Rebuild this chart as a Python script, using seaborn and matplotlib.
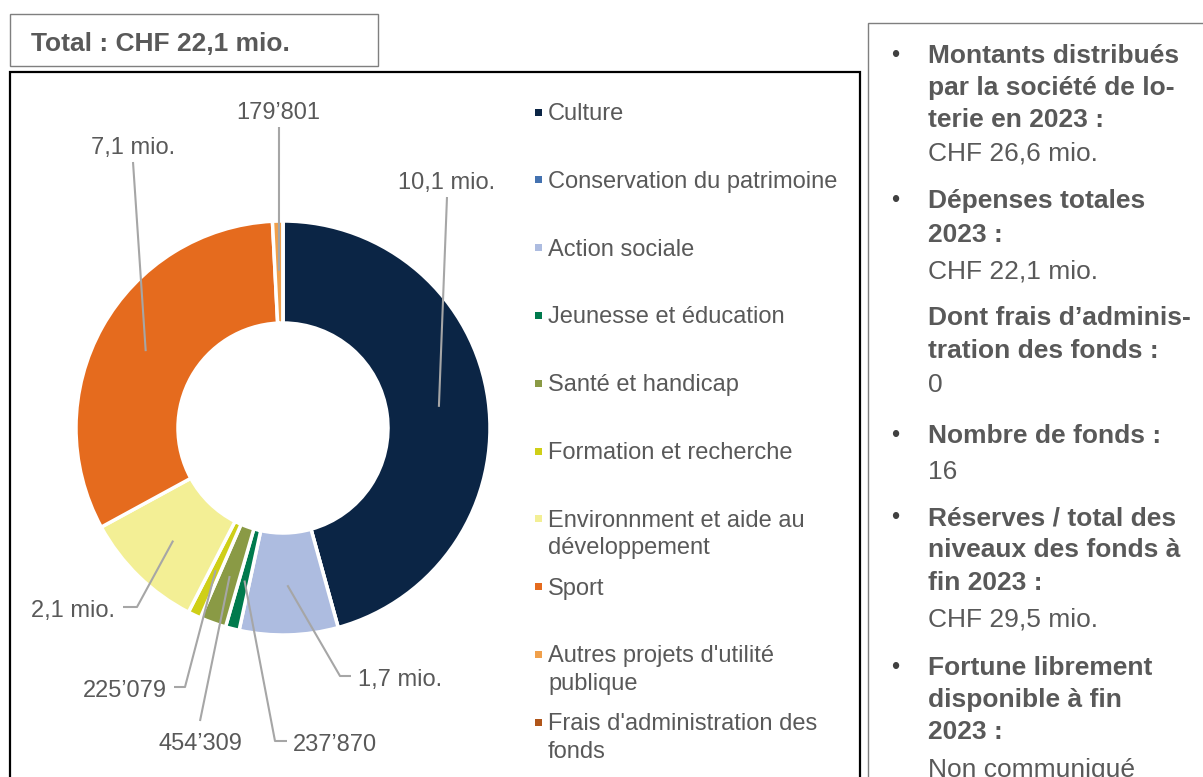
import matplotlib
matplotlib.use("Agg")
import matplotlib.pyplot as plt
import seaborn as sns
import numpy as np
from matplotlib.patches import Rectangle

# ---------------- data ----------------
categories = ["Culture", "Conservation du patrimoine", "Action sociale",
              "Jeunesse et éducation", "Santé et handicap", "Formation et recherche",
              "Environnment et aide au\ndéveloppement", "Sport",
              "Autres projets d'utilité\npublique", "Frais d'administration des\nfonds"]
values = [10_100_000, 0, 1_700_000, 237_870, 454_309, 225_079,
          2_100_000, 7_100_000, 179_801, 0]
value_labels = ["10,1 mio.", None, "1,7 mio.", "237’870", "454’309", "225’079",
                "2,1 mio.", "7,1 mio.", "179’801", None]
colors = ["#0B2545", "#4472B0", "#ADBCE0", "#007A4D", "#8A9A45", "#CFCF17",
          "#F3EF95", "#E56B1E", "#F0A04B", "#B0561A"]
title_text = "Total : CHF 22,1 mio."

# right info box: (text, bold, bullet)
info_lines = [
    ("Montants distribués", True, True),
    ("par la société de lo-", True, False),
    ("terie en 2023 :", True, False),
    ("CHF 26,6 mio.", False, False),
    ("Dépenses totales", True, True),
    ("2023 :", True, False),
    ("CHF 22,1 mio.", False, False),
    ("Dont frais d’adminis-", True, False),
    ("tration des fonds :", True, False),
    ("0", False, False),
    ("Nombre de fonds :", True, True),
    ("16", False, False),
    ("Réserves / total des", True, True),
    ("niveaux des fonds à", True, False),
    ("fin 2023 :", True, False),
    ("CHF 29,5 mio.", False, False),
    ("Fortune librement", True, True),
    ("disponible à fin", True, False),
    ("2023 :", True, False),
    ("Non communiqué", False, False),
]

# ---------------- layout (pixel coordinates, y measured from top) ----------------
W, H = 1203, 777
DY = 3  # visual-centre correction for va='center'
info_y = [53, 85, 117, 151, 198, 232, 268, 315, 348, 382,
          433, 469, 515, 547, 580, 617, 665, 697, 729, 767]
# label layout: (text x, text y, ha, path points from anchor outward)
label_layout = [
    (447, 180, "center", [(447, 197)]),
    None,
    (358, 677, "left", [(340, 676), (351, 676)]),
    (293, 742, "left", [(275, 741), (287, 741)]),
    (200, 741, "center", [(200, 721)]),
    (167, 688, "right", [(185, 687), (174, 687)]),
    (115, 608, "right", [(137, 607), (123, 607)]),
    (133, 145, "center", [(133, 162)]),
    (278, 110, "center", [(279, 127)]),
    None,
]

sns.set_theme(style="white")
plt.rcParams["font.family"] = ["Liberation Sans", "DejaVu Sans"]
TXT = "#595959"
LINE = "#A6A6A6"

def P(x, y):
    return (x, H - y)

fig = plt.figure(figsize=(W / 100, H / 100), dpi=100)
ax = fig.add_axes([0, 0, 1, 1])

cx, cy = P(283, 428)
R = 207
palette = sns.color_palette(colors)
wedges, _ = ax.pie(values, colors=palette, startangle=90, counterclock=False,
                   radius=R, center=(cx, cy),
                   wedgeprops=dict(width=102, edgecolor="white", linewidth=2.5))
ax.set_xlim(0, W)
ax.set_ylim(0, H)
ax.set_aspect("equal")
ax.axis("off")

# value labels with leader lines
for w, lab, lay in zip(wedges, value_labels, label_layout):
    if lab is None or lay is None:
        continue
    mid = np.deg2rad((w.theta1 + w.theta2) / 2)
    ax_pt = (cx + 0.76 * R * np.cos(mid), cy + 0.76 * R * np.sin(mid))
    tx, ty, ha, pts = lay
    xs = [ax_pt[0]] + [P(*p)[0] for p in pts]
    ys = [ax_pt[1]] + [P(*p)[1] for p in pts]
    ax.plot(xs, ys, color=LINE, lw=1.5, solid_capstyle="butt", zorder=5)
    ax.text(*P(tx, ty + DY), lab, ha=ha, va="center", fontsize=17, color=TXT)

# legend (manual, evenly spaced)
for i, (cat, col) in enumerate(zip(categories, palette)):
    y = 112 + i * 67.8
    x0, y0 = P(535, y + 3.5)
    ax.add_patch(Rectangle((x0, y0), 7, 7, facecolor=col, edgecolor="none"))
    ax.text(*P(548, y - 9), cat, ha="left", va="top", fontsize=17, color=TXT,
            linespacing=1.32)

# boxes
def box(x0, y0, x1, y1, color, lw):
    bx, by = P(x0, y1)
    ax.add_patch(Rectangle((bx, by), x1 - x0, y1 - y0, fill=False,
                           edgecolor=color, linewidth=lw, clip_on=False))

box(10, 14, 378, 66, "#7F7F7F", 1.0)
box(10, 72, 860, 790, "#000000", 1.6)
box(868, 23, 1215, 790, "#7F7F7F", 1.0)

ax.text(*P(31, 41 + DY), title_text, ha="left", va="center", fontsize=19,
        fontweight="bold", color=TXT)

for (txt, bold, bullet), y in zip(info_lines, info_y):
    ax.text(*P(928, y + DY), txt, ha="left", va="center", fontsize=19,
            fontweight="bold" if bold else "normal", color=TXT)
    if bullet:
        ax.text(*P(895, y + DY), "•", ha="center", va="center", fontsize=17,
                color="#404040")

fig.savefig("out.png", dpi=100)
